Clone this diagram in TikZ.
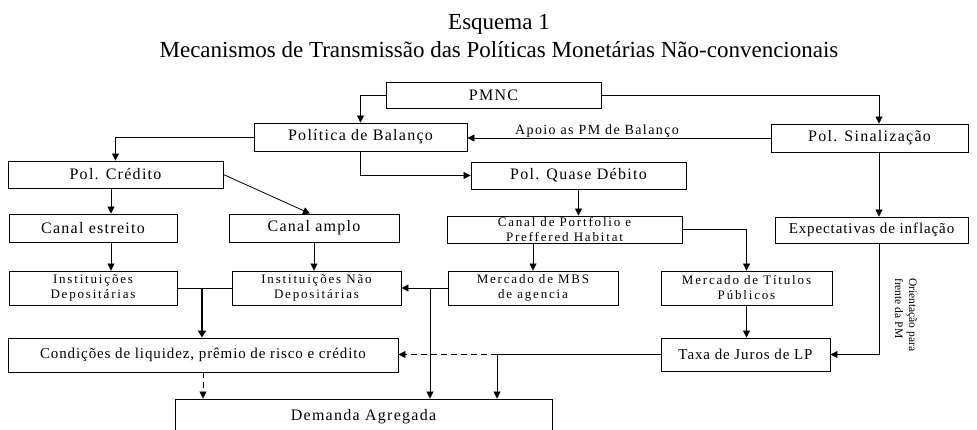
\documentclass[tikz,border=0pt]{standalone}
\usepackage{fontspec}
\setmainfont{Liberation Serif}
\newfontfamily\bxa[LetterSpace=8]{Liberation Serif}
\newfontfamily\bxb[LetterSpace=6]{Liberation Serif}
\newfontfamily\bxc[LetterSpace=14]{Liberation Serif}
\newfontfamily\bxd[LetterSpace=10]{Liberation Serif}
\usetikzlibrary{arrows.meta}
\begin{document}
\begin{tikzpicture}[x=1pt,y=-1pt,
  box/.style={draw, line width=0.9pt, inner sep=0pt, align=center, font=\bxa\fontsize{16}{18}\selectfont},
  boxs/.style={box, font=\bxb\fontsize{15}{17}\selectfont},
  boxt/.style={box, font=\bxc\fontsize{13}{15}\selectfont},
  conn/.style={line width=0.8pt, -{Triangle[length=7pt,width=7pt]}},
  plainline/.style={line width=0.8pt},
  thickconn/.style={line width=1.8pt, -{Triangle[length=7pt,width=8pt]}},
  dsh/.style={conn, dash pattern=on 6pt off 4pt},
  ttl/.style={font=\fontsize{23}{27}\selectfont, anchor=base, inner sep=0pt}]
\useasboundingbox (0,0) rectangle (977,429);

% titles
\node[ttl] (t1) at (499,29) {Esquema 1};
\node[ttl] (t2) at (499,57) {Mecanismos de Transmissão das Políticas Monetárias Não-convencionais};

% boxes
\node[box, minimum width=215, minimum height=26] (pmnc) at (493.5,95) {PMNC};
\node[box, minimum width=213, minimum height=28] (bal) at (360.5,137) {Política de Balanço};
\node[box, minimum width=197, minimum height=28] (sin) at (869.5,138) {Pol. Sinalização};
\node[box, minimum width=215, minimum height=27] (cred) at (115.5,174.5) {Pol. Crédito};
\node[box, minimum width=215, minimum height=27] (quase) at (578.5,175.5) {Pol. Quase Débito};
\node[box, minimum width=168, minimum height=28] (estr) at (93,228) {Canal estreito};
\node[box, minimum width=170, minimum height=28] (ampl) at (314,228) {Canal amplo};
\node[boxt, minimum width=235, minimum height=27] (port) at (564.5,229.5) {Canal de Portfolio e\\Preffered Habitat};
\node[boxs, minimum width=193, minimum height=26] (expe) at (871.5,230) {Expectativas de inflação};
\node[boxt, minimum width=168, minimum height=34] (idep) at (93,288) {Instituições\\Depositárias};
\node[boxt, minimum width=169, minimum height=34] (inao) at (316.5,288) {Instituições Não\\Depositárias};
\node[boxt, minimum width=170, minimum height=34] (mbs) at (533,288) {Mercado de MBS\\de agencia};
\node[boxt, minimum width=171, minimum height=34] (tit) at (746.5,288) {Mercado de Títulos\\Públicos};
\node[boxs, minimum width=390, minimum height=34] (cond) at (203,355) {Condições de liquidez, prêmio de risco e crédito};
\node[boxs, minimum width=169, minimum height=33] (taxa) at (745.5,354.5) {Taxa de Juros de LP};
\node[box, minimum width=377, minimum height=36] (dem) at (363.5,417) {Demanda Agregada};

% helper x positions
\coordinate (vB) at (879,0);
\coordinate (vA) at (111,0);
\coordinate (vE) at (202,0);
\coordinate (vF) at (430,0);
\coordinate (vD) at (497,0);

% connectors
\draw[conn] (pmnc.west) -| (bal.north);
\draw[conn] (pmnc.east) -| (sin.north -| vB);
\draw[conn] (bal.west) -| (cred.north);
\draw[conn] (sin.west) -- (sin.west -| bal.east);
\node[anchor=base, inner sep=0pt, font=\bxd\fontsize{14}{16}\selectfont] (lab) at (597,134.5) {Apoio as PM de Balanço};
\draw[conn] (bal.south) |- (quase.west);
\draw[conn] (cred.south -| vA) -- (estr.north -| vA);
\draw[conn] (cred.east) -- ([xshift=-4pt]ampl.north);
\draw[conn] (sin.south -| vB) -- (expe.north -| vB);
\draw[conn] (quase.south) -- (quase.south |- port.north);
\draw[conn] (estr.south -| vA) -- (idep.north -| vA);
\draw[conn] (ampl.south) -- (ampl.south |- inao.north);
\draw[conn] (mbs.north |- port.south) -- (mbs.north);
\draw[conn] (port.east) -| (tit.north);
\draw[plainline] (idep.east) -- (inao.west);
\draw[thickconn] (idep.east -| vE) -- (cond.north -| vE);
\draw[conn] (mbs.west) -- (inao.east);
\draw[conn] (mbs.west -| vF) -- (dem.north -| vF);
\draw[conn] (tit.south) -- (tit.south |- taxa.north);
\draw[conn] (expe.south -| vB) |- (taxa.east);
\draw[conn] (taxa.west) -| (dem.north -| vD);
\draw[dsh] (taxa.west -| vD) -- (taxa.west -| cond.east);
\draw[dsh] (cond.south) -- (cond.south |- dem.north);

% rotated label
\node[rotate=-90, anchor=west, align=left, inner sep=0pt, font=\fontsize{11.5}{14}\selectfont] (ori) at (906,278) {Orientação para\\frente da PM};
\end{tikzpicture}
\end{document}
